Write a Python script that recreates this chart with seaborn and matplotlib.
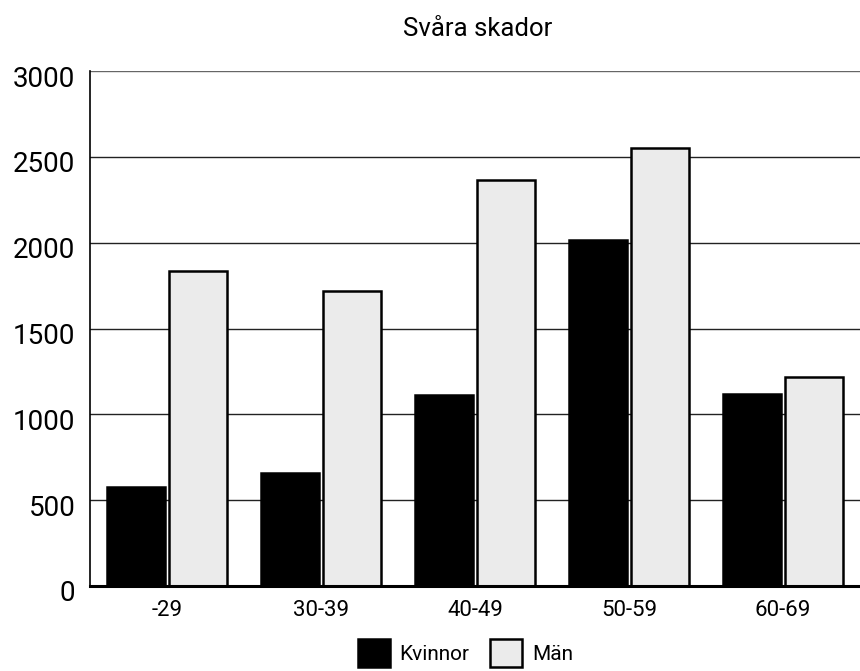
import matplotlib
matplotlib.use("Agg")
import matplotlib.pyplot as plt
import matplotlib.transforms as mtransforms
import seaborn as sns
import pandas as pd
from matplotlib.patches import Patch

# Allvarliga skador per åldersgrupp och kön
age_groups = ["-29", "30-39", "40-49", "50-59", "60-69"]
kvinnor = [575, 660, 1110, 2015, 1120]
man = [1835, 1720, 2368, 2550, 1215]
series_names = ["Kvinnor", "Män"]
y_ticks = [0, 500, 1000, 1500, 2000, 2500, 3000]

df = pd.DataFrame({
    "Ålder": age_groups * 2,
    "Antal": kvinnor + man,
    "Kön": [series_names[0]] * len(age_groups) + [series_names[1]] * len(age_groups),
})

sns.set_theme(style="white")
plt.rcParams["font.family"] = ["Roboto", "DejaVu Sans"]
plt.rcParams["text.color"] = "black"
plt.rcParams["xtick.color"] = "black"
plt.rcParams["ytick.color"] = "black"

fig = plt.figure(figsize=(8.6, 6.71), dpi=100)
ax = fig.add_axes([0.1047, 0.1267, 0.8953, 0.7673])

colors = {"Kvinnor": "#000000", "Män": "#ebebeb"}
sns.barplot(data=df, x="Ålder", y="Antal", hue="Kön", palette=colors,
            width=0.8, gap=0.06, edgecolor="black", linewidth=1.8,
            legend=False, ax=ax, zorder=3)

ax.set_ylim(0, 3000)
ax.set_xlim(-0.5, 4.5)
ax.set_yticks(y_ticks)
ax.set_yticklabels([str(t) for t in y_ticks], fontsize=20)
ax.tick_params(axis="y", length=0, pad=10.5)
ax.tick_params(axis="x", length=0, pad=10, labelsize=16)
ax.set_xlabel("")
ax.set_ylabel("")

# nudge the value labels a little below their grid lines
shift = mtransforms.ScaledTranslation(0, -5 / 100, fig.dpi_scale_trans)
for lbl in ax.get_yticklabels():
    lbl.set_transform(lbl.get_transform() + shift)

for t in y_ticks[1:]:
    ax.axhline(t, color="#222222" if t < 3000 else "#666666", lw=1.0, zorder=1)

for side in ["top", "right"]:
    ax.spines[side].set_visible(False)
ax.spines["left"].set_color("black")
ax.spines["left"].set_linewidth(1.2)
ax.spines["bottom"].set_color("black")
ax.spines["bottom"].set_linewidth(2.2)
ax.spines["bottom"].set_zorder(5)

fig.text(0.556, 1 - 36.5 / 671, "Svåra skador", ha="center", va="baseline",
         fontsize=18.5)

handles = [Patch(facecolor=colors[n], edgecolor="black", linewidth=1.8, label=n)
           for n in series_names]
fig.legend(handles=handles, loc="upper center", bbox_to_anchor=(0.541, 0.048),
           ncol=2, frameon=False, fontsize=15, handlelength=1.55,
           handleheight=1.7, handletextpad=0.45, columnspacing=1.0,
           borderaxespad=0, borderpad=0)

fig.savefig("out.png", dpi=100)
